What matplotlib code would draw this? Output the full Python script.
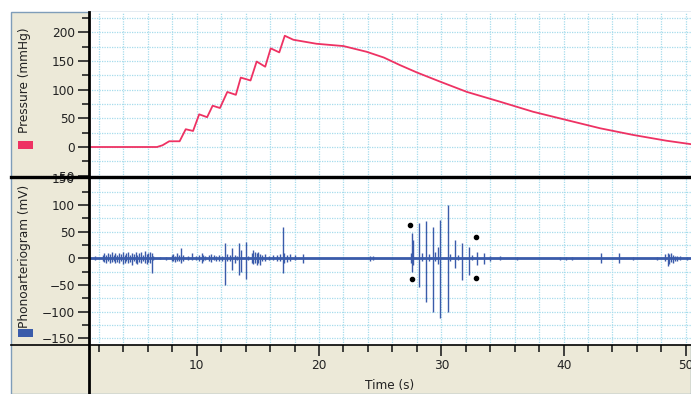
import matplotlib
matplotlib.use('Agg')
import matplotlib.pyplot as plt
from matplotlib.lines import Line2D
from matplotlib.patches import Rectangle
from matplotlib.ticker import MultipleLocator

W, H = 691, 394

# ---- data ----
press_t = [1.2, 6.2, 6.75, 7.2, 7.75, 8.6, 9.1, 9.7, 10.2, 10.85, 11.3, 11.9, 12.5, 13.2,
           13.6, 14.4, 14.9, 15.6, 16.05, 16.75, 17.2, 17.9, 19.8, 22.0, 23.9, 25.3, 26.6,
           28.0, 29.9, 32.1, 34.8, 37.5, 40.25, 43.0, 45.7, 48.4, 50.4]
press_p = [0, 0, 0, 3, 10, 10, 31, 28, 57, 52, 72, 68, 96, 91,
           121, 116, 149, 140, 172, 165, 194, 187, 180, 176, 166, 156, 143,
           130, 114, 96, 79, 61.5, 47, 32.6, 21, 11, 5]

spike_t = [1.68, 2.3, 2.45, 2.6, 2.75, 2.9, 3.05, 3.2, 3.35, 3.5, 3.65, 3.8, 3.95, 4.1, 4.25,
           4.4, 4.55, 4.7, 4.85, 5.0, 5.15, 5.3, 5.45, 5.6, 5.75, 5.9, 6.05, 6.2, 6.32, 6.45,
           7.0, 7.5, 7.95, 8.1, 8.25, 8.4, 8.55, 8.75, 8.9, 9.3, 9.6, 9.9, 10.2, 10.4, 10.55,
           10.7, 11.0, 11.2, 11.4, 11.6, 11.8, 12.05, 12.3, 12.5, 12.7, 12.88, 13.1, 13.3, 13.46,
           13.6, 14.03, 14.2, 14.5, 14.63, 14.75, 14.9, 15.05, 15.17, 15.3, 15.58, 15.9, 16.27,
           16.6, 16.85, 17.03, 17.15, 17.35, 17.63, 18.04, 18.72, 24.2, 24.45,
           27.5, 27.58, 27.72, 28.2, 28.45, 28.72, 29.0, 29.29, 29.45, 29.75, 29.89, 30.52,
           30.75, 31.12, 31.35, 31.72, 32.29, 32.55, 32.89, 33.49, 34.0, 34.8,
           36.2, 39.7, 40.2, 40.7, 43.1, 44.5, 45.7, 47.6, 48.3, 48.5, 48.65, 48.8, 48.95,
           49.1, 49.3, 49.5, 50.1]
spike_up = [4, 6, 9, 7, 10, 8, 11, 7, 9, 6, 10, 8, 12, 7, 9,
            11, 6, 10, 8, 12, 7, 9, 11, 6, 13, 8, 10, 12, 9, 5,
            3, 2, 6, 8, 5, 9, 6, 19, 7, 4, 10, 5, 6, 10, 7,
            5, 6, 8, 6, 4, 7, 5, 28, 8, 6, 19, 6, 5, 28,
            16, 31, 5, 10, 16, 12, 9, 11, 8, 6, 8, 5, 7,
            6, 8, 59, 9, 6, 8, 6, 8, 5, 4,
            10, 47, 34, 66, 10, 69, 8, 58, 12, 22, 72, 100,
            8, 34, 6, 28, 22, 6, 12, 10, 5, 4,
            3, 3, 3, 3, 9, 9, 3, 3, 8, 10, 8, 9, 6,
            5, 4, 4, 3]
spike_dn = [3, 5, 7, 8, 6, 9, 7, 6, 8, 7, 9, 6, 10, 8, 5,
            9, 7, 12, 6, 9, 10, 7, 8, 6, 9, 10, 7, 8, 28, 4,
            2, 3, 5, 6, 7, 6, 5, 8, 6, 3, 4, 4, 5, 9, 6,
            4, 5, 7, 4, 6, 5, 6, 50, 6, 5, 22, 8, 4, 31,
            26, 39, 4, 8, 10, 9, 12, 8, 12, 5, 6, 4, 4,
            5, 6, 28, 8, 7, 5, 4, 8, 5, 4,
            8, 25, 12, 53, 5, 81, 5, 100, 6, 10, 112, 100,
            6, 19, 4, 41, 31, 4, 12, 10, 5, 3,
            3, 3, 3, 3, 9, 9, 3, 3, 6, 14, 10, 7, 8,
            5, 6, 4, 3]

marker_t = [27.4, 27.6, 32.85, 32.85]
marker_v = [62, -39, 39, -36]

x_ticks = [10, 20, 30, 40, 50]
p_ticks = [-50, 0, 50, 100, 150, 200]
ph_ticks = [-150, -100, -50, 0, 50, 100, 150]

press_color = '#EE3263'
phono_color = '#3A5BAA'
grid_color = '#A6DCEC'
beige = '#ECE9D8'
ink = '#222222'

# ---- figure ----
fig = plt.figure(figsize=(W / 100, H / 100), dpi=100, facecolor='white')


def fx(px):
    return px / W


def fy(py):
    return 1 - py / H


bg = Rectangle((fx(11), 0), 1 - fx(11), fy(12), transform=fig.transFigure,
               facecolor=beige, edgecolor='#7F9DB9', lw=1.0, zorder=-10)
fig.add_artist(bg)

rect1 = [fx(89), fy(177), fx(691) - fx(89), fy(12) - fy(177)]
rect2 = [fx(89), fy(345), fx(691) - fx(89), fy(177) - fy(345)]
ax1 = fig.add_axes(rect1)
ax2 = fig.add_axes(rect2)

for ax in (ax1, ax2):
    ax.set_facecolor('white')
    ax.set_xlim(1.19, 50.42)
    for s in ax.spines.values():
        s.set_visible(False)
    ax.xaxis.set_major_locator(MultipleLocator(2))
    ax.yaxis.set_major_locator(MultipleLocator(25))
    ax.grid(True, which='major', color=grid_color, linestyle=(0, (1, 1)), lw=0.9)
    ax.set_axisbelow(True)
    ax.tick_params(axis='x', which='both', length=0, labelbottom=False)
    ax.tick_params(axis='y', which='both', length=0, labelleft=False)

# pressure
ax1.set_ylim(-52.3, 235.4)
ax1.plot(press_t, press_p, color=press_color, lw=1.3, zorder=3)

# phono
ax2.set_ylim(-162.4, 152.2)
ax2.axhline(0, color=phono_color, lw=2.0, zorder=3)
ax2.vlines(spike_t, [-d for d in spike_dn], spike_up, color=phono_color, lw=1.0, zorder=3)
ax2.plot(marker_t, marker_v, 'o', color='black', ms=3, zorder=4)


def overlay(rect, xlim, ylim):
    o = fig.add_axes(rect, label=str(rect) + str(ylim))
    o.patch.set_visible(False)
    o.set_xlim(xlim)
    o.set_ylim(ylim)
    for s in o.spines.values():
        s.set_visible(False)
    return o


# y ticks on separate overlay axes (gridlines stay every 25)
for rect, ax, ticks in ((rect1, ax1, p_ticks), (rect2, ax2, ph_ticks)):
    o = overlay(rect, ax.get_xlim(), ax.get_ylim())
    o.set_xticks([])
    o.set_yticks(ticks)
    o.yaxis.set_minor_locator(MultipleLocator(25))
    o.tick_params(axis='y', which='major', length=8, width=1.2, color=ink,
                  labelsize=8.7, pad=2, labelcolor=ink)
    o.tick_params(axis='y', which='minor', length=5, width=1.2, color=ink)

# x ticks on bottom axis
ox = overlay(rect2, ax2.get_xlim(), ax2.get_ylim())
ox.set_yticks([])
ox.set_xticks(x_ticks)
ox.xaxis.set_minor_locator(MultipleLocator(2))
ox.tick_params(axis='x', which='major', length=8, width=1.2, color=ink,
               labelsize=8.7, pad=2, labelcolor=ink)
ox.tick_params(axis='x', which='minor', length=5, width=1.2, color=ink)

# heavy black lines
fig.add_artist(Line2D([fx(89), fx(89)], [fy(12), 0], transform=fig.transFigure,
                      color='black', lw=2.0, zorder=10))
fig.add_artist(Line2D([fx(11), 1], [fy(177), fy(177)], transform=fig.transFigure,
                      color='black', lw=2.4, zorder=10))
fig.add_artist(Line2D([fx(11), 1], [fy(345), fy(345)], transform=fig.transFigure,
                      color='black', lw=1.2, zorder=10))

# axis labels with legend swatches
fig.text(fx(25), fy(80), 'Pressure (mmHg)', rotation=90, ha='center', va='center',
         fontsize=8.7, color=ink)
fig.add_artist(Rectangle((fx(18), fy(149)), fx(15), 8 / H, transform=fig.transFigure,
                         facecolor=press_color, edgecolor='none', zorder=5))
fig.text(fx(25), fy(256), 'Phonoarteriogram (mV)', rotation=90, ha='center', va='center',
         fontsize=8.7, color=ink)
fig.add_artist(Rectangle((fx(18), fy(337)), fx(15), 8 / H, transform=fig.transFigure,
                         facecolor=phono_color, edgecolor='none', zorder=5))
fig.text(fx(390), fy(386), 'Time (s)', ha='center', va='center', fontsize=8.7,
         color=ink)

fig.savefig('out.png', dpi=100, facecolor='white')
